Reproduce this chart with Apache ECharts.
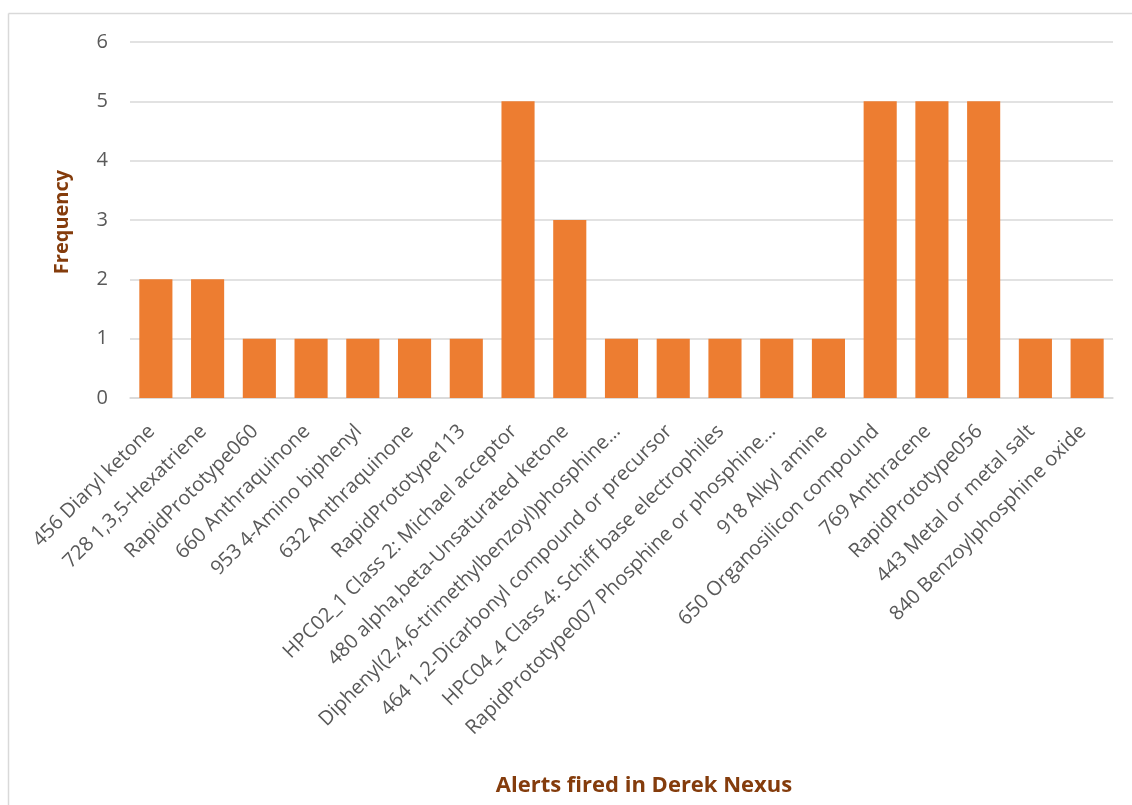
<!DOCTYPE html>
<html>
<head>
<meta charset="utf-8">
<script src="https://cdn.jsdelivr.net/npm/echarts@6/dist/echarts.min.js"></script>
<style>
html,body{margin:0;padding:0;background:#fff;}
#c{width:1132px;height:805px;}
</style>
</head>
<body>
<div id="c"></div>
<script>
const categories = [
  "456 Diaryl ketone",
  "728 1,3,5-Hexatriene",
  "RapidPrototype060",
  "660 Anthraquinone",
  "953 4-Amino biphenyl",
  "632 Anthraquinone",
  "RapidPrototype113",
  "HPC02_1 Class 2: Michael acceptor",
  "480 alpha,beta-Unsaturated ketone",
  "Diphenyl(2,4,6-trimethylbenzoyl)phosphine…",
  "464 1,2-Dicarbonyl compound or precursor",
  "HPC04_4 Class 4: Schiff base electrophiles",
  "RapidPrototype007 Phosphine or phosphine…",
  "918 Alkyl amine",
  "650 Organosilicon compound",
  "769 Anthracene",
  "RapidPrototype056",
  "443 Metal or metal salt",
  "840 Benzoylphosphine oxide"
];
const frequency = [2, 2, 1, 1, 1, 1, 1, 5, 3, 1, 1, 1, 1, 1, 5, 5, 5, 1, 1];
const yTicks = [0, 1, 2, 3, 4, 5, 6];

const chart = echarts.init(document.getElementById('c'));
const FONT = "'Open Sans', 'Liberation Sans', sans-serif";
chart.setOption({
  animation: false,
  graphic: [
    { type: 'line', shape: { x1: 8.5, y1: 13.5, x2: 1140, y2: 13.5 }, style: { stroke: '#d9d9d9', lineWidth: 1.5 } },
    { type: 'line', shape: { x1: 8.5, y1: 13.5, x2: 8.5, y2: 810 }, style: { stroke: '#d9d9d9', lineWidth: 1.5 } },
    { type: 'text', x: 644, y: 786, style: { text: 'Alerts fired in Derek Nexus', font: "bold 22px " + FONT, fill: '#843c0c', align: 'center', verticalAlign: 'middle' } },
    { type: 'text', x: 62, y: 222, rotation: Math.PI / 2, style: { text: 'Frequency', font: "bold 20px " + FONT, fill: '#843c0c', align: 'center', verticalAlign: 'middle' } }
  ],
  grid: { left: 130, right: 19, top: 42, bottom: 407, containLabel: false },
  xAxis: {
    type: 'category',
    data: categories,
    axisLine: { lineStyle: { color: '#d9d9d9', width: 1.5 } },
    axisTick: { show: false },
    axisLabel: { rotate: 45, interval: 0, color: '#595959', fontSize: 20, fontFamily: FONT, margin: 26, padding: [0, 6, 0, 0] }
  },
  yAxis: {
    type: 'value',
    min: 0, max: 6, interval: 1,
    axisLine: { show: false },
    axisTick: { show: false },
    splitLine: { lineStyle: { color: '#d9d9d9', width: 1.5 } },
    axisLabel: { color: '#595959', fontSize: 20, fontFamily: FONT, margin: 22,
      formatter: v => yTicks.includes(v) ? String(v) : '' }
  },
  series: [{
    type: 'bar',
    data: frequency,
    barWidth: '64%',
    itemStyle: { color: '#ed7d31' }
  }]
});
</script>
</body>
</html>
